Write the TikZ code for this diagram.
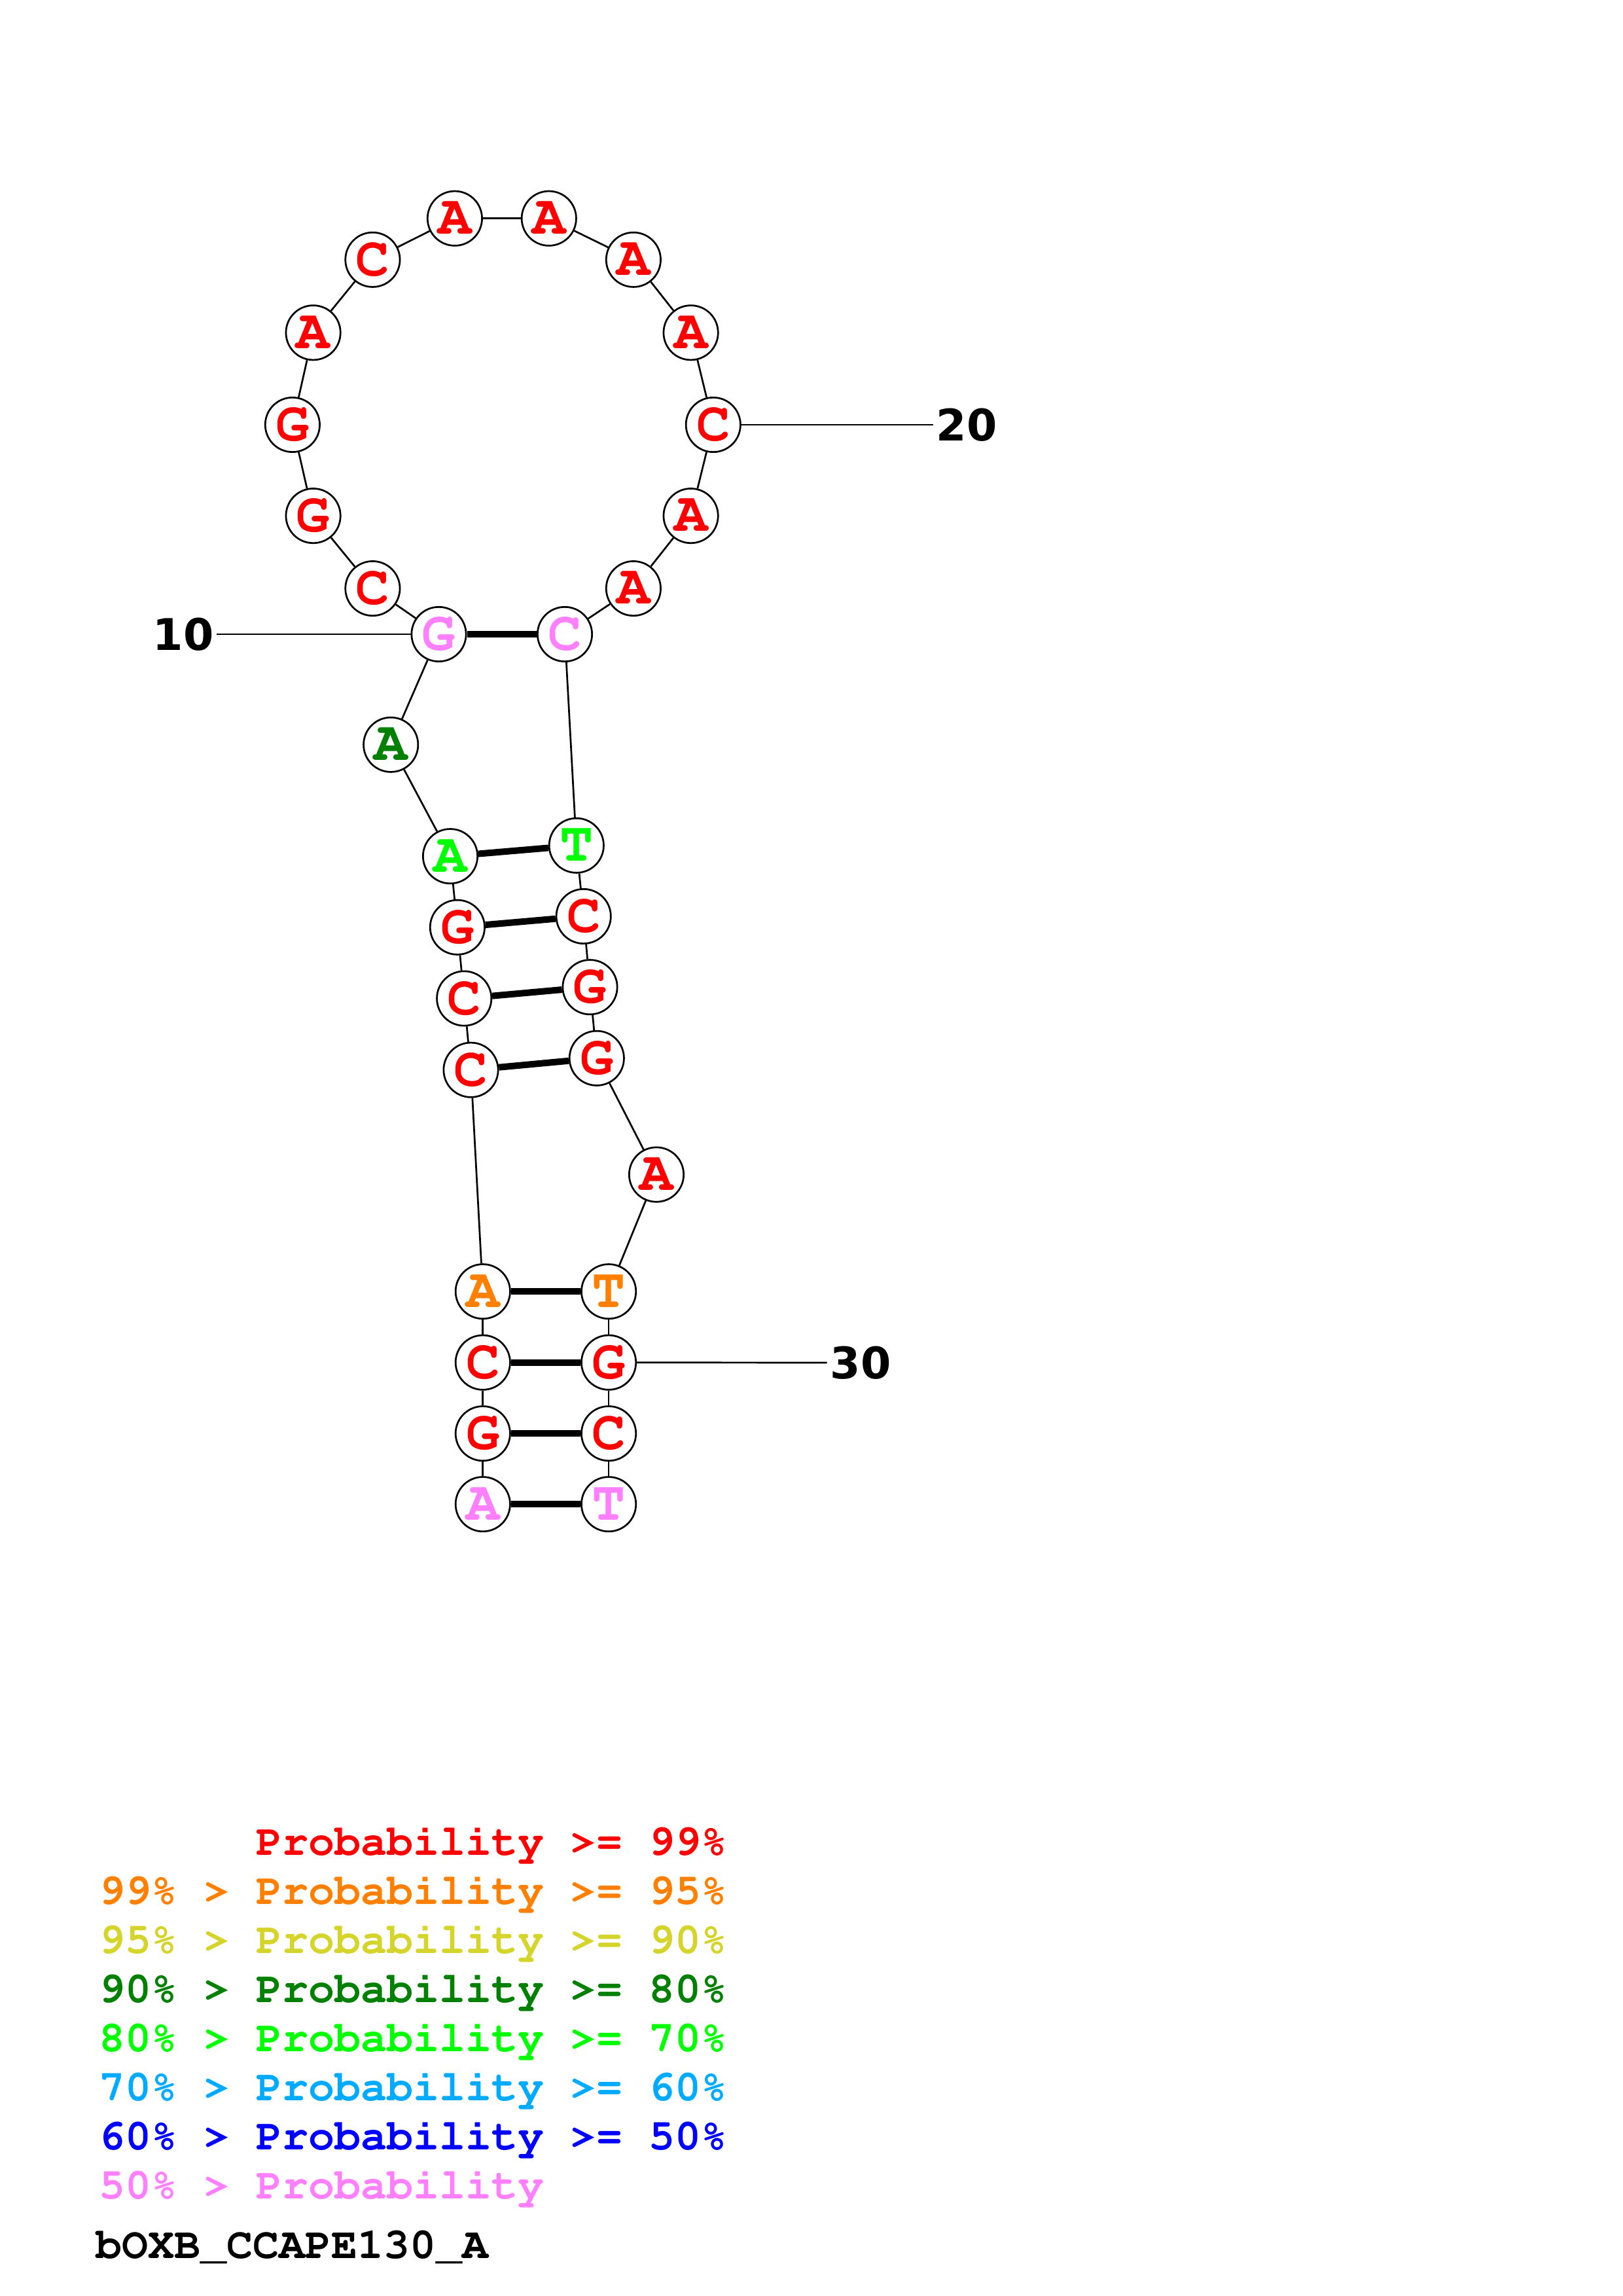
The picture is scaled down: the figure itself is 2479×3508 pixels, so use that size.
\documentclass[tikz,border=0pt]{standalone}
\usepackage[T1,TU]{fontenc}
\usepackage{fontspec}
\newfontfamily\numfont{DejaVu Sans}
\newcommand\courbold{\fontencoding{T1}\fontfamily{pcr}\fontseries{b}\selectfont}
\usepackage{tikz}
\definecolor{prob99}{RGB}{255,0,0}
\definecolor{prob95}{RGB}{255,128,0}
\definecolor{prob90}{RGB}{212,212,42}
\definecolor{prob80}{RGB}{0,128,0}
\definecolor{prob70}{RGB}{0,255,0}
\definecolor{prob60}{RGB}{0,170,255}
\definecolor{prob50}{RGB}{0,0,255}
\definecolor{problow}{RGB}{255,128,255}
\tikzset{
	base/.style={circle, draw=black, line width=0.65pt, minimum size=20pt, inner sep=0pt, font=\courbold\fontsize{20.5}{24}\selectfont},
	backbone/.style={line width=0.65pt},
	bond/.style={line width=2.4pt},
	numlabel/.style={inner sep=1pt, font=\numfont\fontsize{16}{19}\selectfont\bfseries},
	legend/.style={anchor=base west, inner sep=0pt, font=\courbold\fontsize{16}{19}\selectfont}
}

\begin{document}
\begin{tikzpicture}[x=0.2401pt, y=-0.2401pt]
	\useasboundingbox (0,0) rectangle (2479,3508);

	% bases, 5' -> 3'
	\foreach \n/\x/\y/\c/\l in {
		1/737.8/2298.2/problow/A, 2/737.8/2190.2/prob99/G, 3/737.8/2081.7/prob99/C, 4/737.8/1973.2/prob95/A,
		5/719.5/1634.7/prob99/C, 6/709.2/1525.5/prob99/C, 7/698.9/1416.8/prob99/G, 8/688/1308.2/prob70/A,
		9/597.2/1137.8/prob80/A, 10/670.5/969/problow/G, 11/569.4/899.1/prob99/C, 12/478.6/788.1/prob99/G,
		13/446.9/649/prob99/G, 14/478.6/508.3/prob99/A, 15/569.4/396.8/prob99/C, 16/694.9/333.7/prob99/A,
		17/838.8/333.7/prob99/A, 18/967.9/396.8/prob99/A, 19/1055.6/508.3/prob99/A, 20/1089.8/649/prob99/C,
		21/1055.6/788.1/prob99/A, 22/967.9/899.1/prob99/A, 23/863/969/problow/C, 24/880.8/1291.8/prob70/T,
		25/891.7/1400/prob99/C, 26/901.5/1508.2/prob99/G, 27/911.8/1616.8/prob99/G, 28/1003/1794.6/prob99/A,
		29/930.1/1973.2/prob95/T, 30/930.1/2081.7/prob99/G, 31/930.1/2190.2/prob99/C, 32/930.1/2298.2/problow/T}
		\node[base, text=\c] (b\n) at (\x,\y) {\l};

	\foreach \i [evaluate=\i as \j using int(\i+1)] in {1,...,31}
		\draw[backbone] (b\i) -- (b\j);

	\foreach \p/\q in {1/32, 2/31, 3/30, 4/29, 5/27, 6/26, 7/25, 8/24, 10/23}
		\draw[bond] (b\p) -- (b\q);

	% position marks
	\node[numlabel] (n10) at (280,969) {10};
	\node[numlabel] (n20) at (1477,649) {20};
	\node[numlabel] (n30) at (1315,2082) {30};
	\draw[backbone] (b10) -- (n10);
	\draw[backbone] (b20) -- (n20);
	\draw[backbone] (b30) -- (n30);

	% legend
	\node[legend, text=prob99] (l99) at (151,2834) {\hphantom{99\% > }Probability >= 99\%};
	\node[legend, text=prob95] (l95) at (151,2909) {99\% > Probability >= 95\%};
	\node[legend, text=prob90] (l90) at (151,2984) {95\% > Probability >= 90\%};
	\node[legend, text=prob80] (l80) at (151,3059) {90\% > Probability >= 80\%};
	\node[legend, text=prob70] (l70) at (151,3134) {80\% > Probability >= 70\%};
	\node[legend, text=prob60] (l60) at (151,3209) {70\% > Probability >= 60\%};
	\node[legend, text=prob50] (l50) at (151,3284) {60\% > Probability >= 50\%};
	\node[legend, text=problow] (llow) at (151,3359) {50\% > Probability};
	\node[legend] (title) at (146,3450) {bOXB\_CCAPE130\_A};
\end{tikzpicture}
\end{document}
